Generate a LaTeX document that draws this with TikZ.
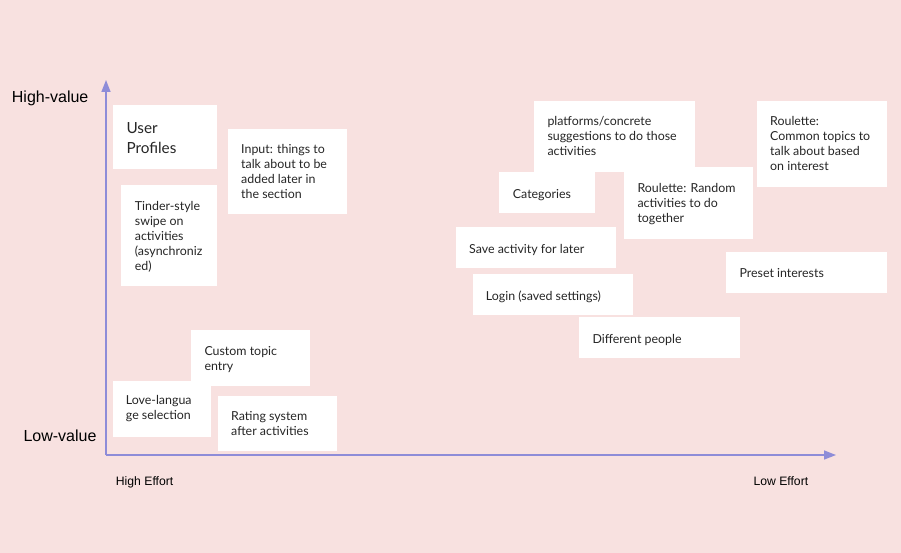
\documentclass[tikz,border=0pt]{standalone}
\usepackage{fontspec}
\setmainfont{Lato}
\newfontfamily\arialfont{Liberation Sans}
\usetikzlibrary{arrows.meta}
\definecolor{bgpink}{HTML}{F8E1E0}
\definecolor{axiscol}{HTML}{8E8CD8}
\begin{document}
\begin{tikzpicture}[x=1pt,y=-1pt,
  card/.style={fill=white, draw=none, inner sep=0pt, outer sep=0pt, anchor=north west},
  cardtext/.style={font=\fontsize{12.4}{15}\selectfont, align=left, inner sep=0pt, anchor=north west, text=black!85, execute at begin node=\strut, yshift=-1.3pt},
  bigtext/.style={font=\fontsize{15.3}{20}\selectfont, align=left, inner sep=0pt, anchor=north west, text=black!85, execute at begin node=\strut, yshift=-3pt},
  axislabel/.style={font=\arialfont\fontsize{16}{19}\selectfont, inner sep=0pt, anchor=base west},
  efflabel/.style={font=\arialfont\fontsize{12.2}{15}\selectfont, inner sep=0pt, anchor=base west},
  axisline/.style={draw=axiscol, line width=1.6pt, -{Triangle[length=12pt,width=9pt]}}
]
\fill[bgpink] (0,0) rectangle (901,553);
\useasboundingbox (0,0) rectangle (901,553);

% axes
\coordinate (O) at (106,455);
\coordinate (ytop) at (106,80);
\coordinate (xend) at (836,455);
\draw[axisline] (O) -- (ytop);
\draw[axisline] (O) -- (xend);

% axis labels
\node[axislabel] (hv) at (11.7,102.3) {High-value};
\node[axislabel] (lv) at (23.3,441.7) {Low-value};
\node[efflabel] (he) at (115.7,485) {High Effort};
\node[efflabel] (le) at (753.3,485) {Low Effort};

% cards (left)
\node[card, minimum width=104, minimum height=64] (up) at (113,105) {};
\node[bigtext] (upt) at (126.3,119.3) {User\\Profiles};

\node[card, minimum width=119, minimum height=85] (inp) at (228,129) {};
\node[cardtext] (inpt) at (241,142.8) {Input: things to\\talk about to be\\added later in\\the section};

\node[card, minimum width=96, minimum height=101] (tin) at (121,185) {};
\node[cardtext] (tint) at (134.7,199.5) {Tinder-style\\swipe on\\activities\\(asynchroniz\\ed)};

\node[card, minimum width=119, minimum height=56] (cus) at (191,330) {};
\node[cardtext] (cust) at (204.3,345.2) {Custom topic\\entry};

\node[card, minimum width=98, minimum height=56] (love) at (113,381) {};
\node[cardtext] (lovet) at (125.7,393.8) {Love-langua\\ge selection};

\node[card, minimum width=119, minimum height=55] (rat) at (218,396) {};
\node[cardtext] (ratt) at (231,410.2) {Rating system\\after activities};

% cards (right)
\node[card, minimum width=161, minimum height=71] (plat) at (534,101) {};
\node[cardtext] (platt) at (547.3,115.2) {platforms/concrete\\suggestions to do those\\activities};

\node[card, minimum width=96, minimum height=41] (cat) at (499,172) {};
\node[cardtext] (catt) at (512.7,186.2) {Categories};

\node[card, minimum width=129, minimum height=72] (rr) at (624,167) {};
\node[cardtext] (rrt) at (637.3,181.8) {Roulette: Random\\activities to do\\together};

\node[card, minimum width=130, minimum height=86] (rc) at (757,101) {};
\node[cardtext] (rct) at (770,115.2) {Roulette:\\Common topics to\\talk about based\\on interest};

\node[card, minimum width=160, minimum height=41] (save) at (456,227) {};
\node[cardtext] (savet) at (469,241.8) {Save activity for later};

\node[card, minimum width=160, minimum height=41] (log) at (473,274) {};
\node[cardtext] (logt) at (485.7,288.5) {Login (saved settings)};

\node[card, minimum width=161, minimum height=41] (dif) at (579,317) {};
\node[cardtext] (dift) at (592.3,331.8) {Different people};

\node[card, minimum width=161, minimum height=41] (pre) at (726,252) {};
\node[cardtext] (pret) at (739.3,265.5) {Preset interests};
\end{tikzpicture}
\end{document}
